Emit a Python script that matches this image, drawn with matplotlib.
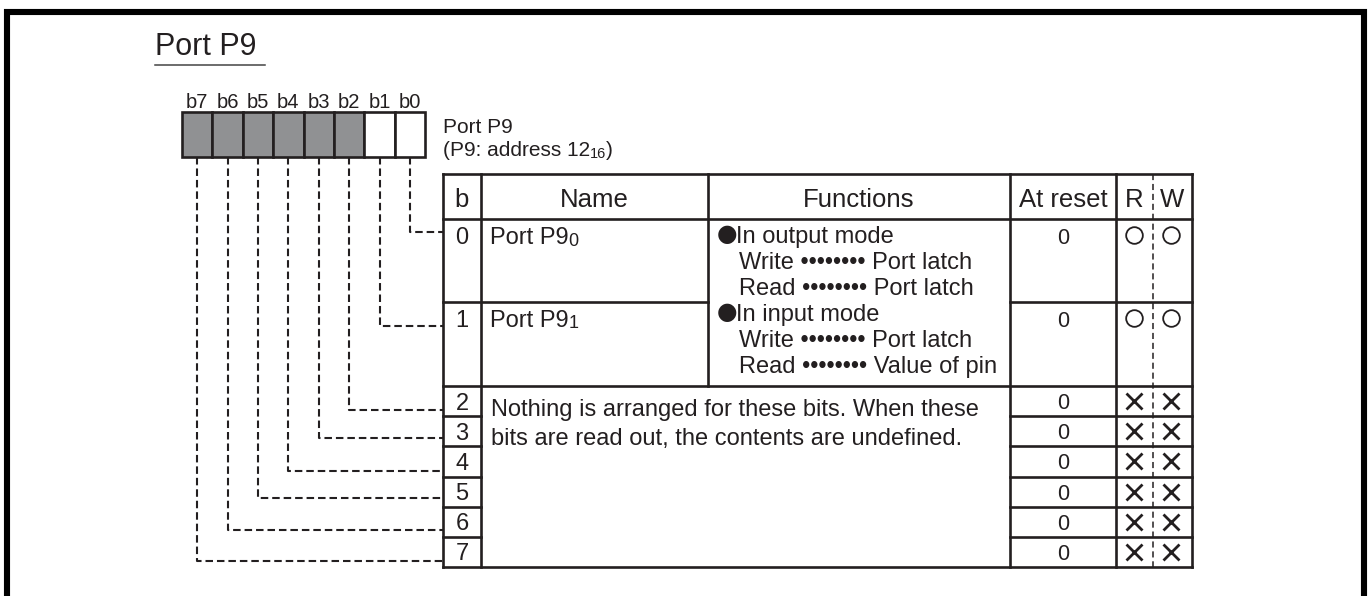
import matplotlib
matplotlib.use("Agg")
import matplotlib.pyplot as plt
import numpy as np
from matplotlib.patches import Rectangle

plt.rcParams['font.family'] = ['Liberation Sans', 'DejaVu Sans']

INK = "#231f20"
GRAY = "#909193"

# register contents
title = "Port P9"
reg_name = "Port P9"
reg_addr = [("(P9: address 12", 0), ("16", 1), (")", 0)]
bit_labels = ["b7", "b6", "b5", "b4", "b3", "b2", "b1", "b0"]
bit_used = [False, False, False, False, False, False, True, True]   # b7 .. b0

headers = ["b", "Name", "Functions", "At reset", "R", "W"]
row_bits = ["0", "1", "2", "3", "4", "5", "6", "7"]
names = [("Port P9", "0"), ("Port P9", "1")]
# (text, is a bulleted heading)
functions = [
    ("In output mode", True),
    ("Write •••••••• Port latch", False),
    ("Read •••••••• Port latch", False),
    ("In input mode", True),
    ("Write •••••••• Port latch", False),
    ("Read •••••••• Value of pin", False),
]
note = ["Nothing is arranged for these bits. When these",
        "bits are read out, the contents are undefined."]
reset_vals = ["0", "0", "0", "0", "0", "0", "0", "0"]
read_marks = ["O", "O", "X", "X", "X", "X", "X", "X"]
write_marks = ["O", "O", "X", "X", "X", "X", "X", "X"]

# layout (pixels)
W, H = 1368, 596
box_left, box_w, box_top, box_bot = 182, 30.4, 112, 157
col_x = [443, 481, 708, 1010, 1116, 1153, 1192]
row_y = [174, 219, 302] + list(np.linspace(386, 567, 7))
link_y = [232, 326, 410, 438, 471, 498, 530, 561]

fig = plt.figure(figsize=(W / 100, H / 100), dpi=100)
ax = fig.add_axes([0, 0, 1, 1])
ax.set_xlim(0, W)
ax.set_ylim(H, 0)
ax.axis('off')
renderer = fig.canvas.get_renderer()


def pieces(x, y, parts, size, sub_size):
    # text with smaller "subscript" digits on the same baseline
    for txt, is_sub in parts:
        t = ax.text(x, y + (1.5 if is_sub else 0), txt, fontsize=sub_size if is_sub else size,
                    va='baseline', ha='left', color=INK)
        x += t.get_window_extent(renderer).width


def hline(y, x0, x1, **kw):
    ax.plot([x0, x1], [y, y], color=INK, lw=1.9, solid_capstyle='projecting', **kw)


def vline(x, y0, y1, **kw):
    ax.plot([x, x], [y0, y1], color=INK, lw=1.9, solid_capstyle='projecting', **kw)


# outer frame
ax.plot([7, 7, 1364, 1364], [H + 5, 12, 12, H + 5], color="black", lw=4.4,
        solid_joinstyle='miter')

# title
ax.text(155, 55, title, fontsize=22, va='baseline', ha='left', color=INK)
ax.plot([155, 265], [65, 65], color="#444444", lw=1.1)

# register boxes
for i, (lab, used) in enumerate(zip(bit_labels, bit_used)):
    x0 = box_left + i * box_w
    ax.add_patch(Rectangle((x0, box_top), box_w, box_bot - box_top,
                           facecolor="white" if used else GRAY, edgecolor=INK, lw=1.9))
    ax.text(x0 + box_w / 2, 108, lab, fontsize=14.5, ha='center', va='baseline', color=INK)

ax.text(443, 133, reg_name, fontsize=15, ha='left', va='baseline', color=INK)
pieces(443, 156, reg_addr, 15, 10.5)

# dashed connectors from each bit to its table row
for i in range(8):
    cx = box_left + (7 - i + 0.5) * box_w
    ax.plot([cx, cx, col_x[0]], [box_bot, link_y[i], link_y[i]], color=INK, lw=1.5,
            ls=(0, (3.6, 1.9)))

# table grid
top, bot = row_y[0], row_y[-1]
left, right = col_x[0], col_x[-1]
hline(top, left, right)
hline(bot, left, right)
hline(row_y[1], left, right)
hline(row_y[2], left, col_x[2])
hline(row_y[2], col_x[3], right)
hline(row_y[3], left, right)
for y in row_y[4:-1]:
    hline(y, left, col_x[1])
    hline(y, col_x[3], right)
vline(left, top, bot)
vline(col_x[1], top, bot)
vline(col_x[2], top, row_y[3])
vline(col_x[3], top, bot)
vline(col_x[4], top, bot)
vline(right, top, bot)
ax.plot([col_x[5], col_x[5]], [top, bot], color=INK, lw=1.1, ls=(0, (4, 2.5)))

# header
for j, h in enumerate(headers):
    cx = (col_x[j] + col_x[j + 1]) / 2
    ax.text(cx, 207, h, fontsize=18.5, ha='center', va='baseline', color=INK)

# rows
for r in range(8):
    y0, y1 = row_y[r + 1], row_y[r + 2]
    if r < 2:
        base = y0 + 25
        mark_y = y0 + 16
        ax.text((col_x[0] + col_x[1]) / 2, base, row_bits[r], fontsize=17,
                ha='center', va='baseline', color=INK)
        ax.text((col_x[3] + col_x[4]) / 2, base, reset_vals[r], fontsize=15.5,
                ha='center', va='baseline', color=INK)
        main, sub = names[r]
        pieces(490, base, [(main, 0), (sub, 1)], 17, 13)
    else:
        mark_y = (y0 + y1) / 2
        ax.text((col_x[0] + col_x[1]) / 2, mark_y, row_bits[r], fontsize=17,
                ha='center', va='center_baseline', color=INK)
        ax.text((col_x[3] + col_x[4]) / 2, mark_y, reset_vals[r], fontsize=15.5,
                ha='center', va='center_baseline', color=INK)
    for m, cx in ((read_marks[r], 1134), (write_marks[r], 1171)):
        if m == "O":
            ax.plot(cx, mark_y, marker='o', ms=12, mfc='none', mec=INK, mew=1.3)
        else:
            ax.plot(cx, mark_y, marker='x', ms=11, mec=INK, mew=2.0)

# functions cell
for k, (line, bullet) in enumerate(functions):
    base = 243 + 26 * k
    if bullet:
        ax.text(727, base - 9, "●", fontsize=17, family='DejaVu Sans',
                ha='center', va='center', color=INK)
        ax.text(736, base, line, fontsize=17, ha='left', va='baseline', color=INK)
    else:
        ax.text(739, base, line, fontsize=17, ha='left', va='baseline', color=INK)

# note cell
for k, line in enumerate(note):
    ax.text(491, 416 + 29 * k, line, fontsize=17, ha='left', va='baseline', color=INK)

fig.savefig("out.png", dpi=100, facecolor="white")
